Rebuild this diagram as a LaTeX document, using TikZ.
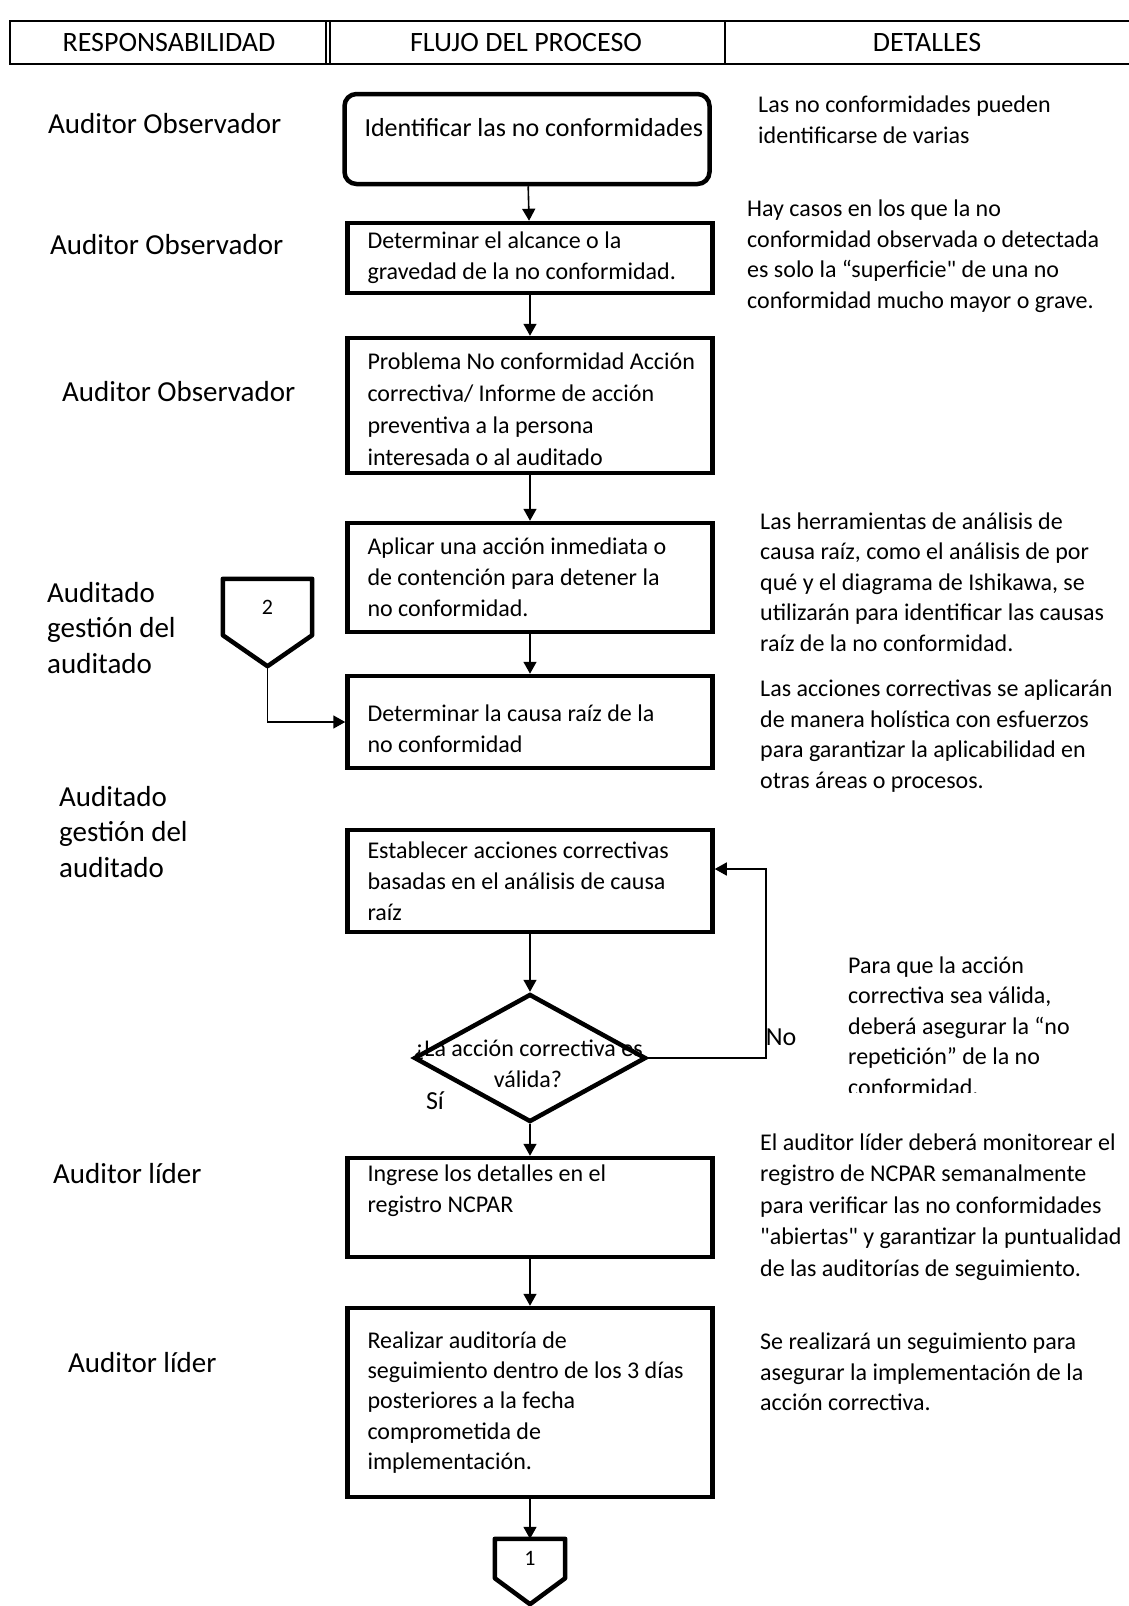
\documentclass[tikz,border=0pt]{standalone}
\usepackage{fontspec}
\setmainfont{Carlito}
\usetikzlibrary{positioning,shapes.geometric,arrows.meta}

\tikzset{
  box/.style={draw, line width=4.5pt, minimum width=365pt, text width=325pt,
    inner xsep=20pt, align=flush left, font=\fontsize{24}{31}\selectfont},
  decision/.style={draw, diamond, line width=4.5pt, minimum width=232pt,
    minimum height=128pt, inner sep=0pt},
  offpage/.style={minimum width=#1, minimum height=40pt,
    font=\fontsize{22}{26}\selectfont},
  flow/.style={line width=1.6pt, -{Triangle[length=12pt,width=13pt]}},
  conn/.style={line width=4.5pt, line join=round},
  role/.style={anchor=west, inner sep=0pt, align=left,
    font=\fontsize{29}{35.5}\selectfont},
  note/.style={anchor=west, inner sep=0pt, align=left,
    font=\fontsize{24}{30.5}\selectfont},
  head/.style={inner sep=0pt, font=\fontsize{28}{32}\selectfont},
}

\begin{document}
\begin{tikzpicture}[x=1pt,y=-1pt]
  \fill[white] (0,0) rectangle (1129,1606);
  \useasboundingbox (0,0) rectangle (1129,1606);

  % cabecera de la tabla
  \draw[line width=1.5pt] (1129,21) -- (10,21) -- (10,64) -- (1129,64);
  \draw[line width=1.5pt] (326,21) -- (326,64) (330,21) -- (330,64) (725,21) -- (725,64);
  \node[head] (hresp) at (169,43) {RESPONSABILIDAD};
  \node[head] (hflujo) at (526,43) {FLUJO DEL PROCESO};
  \node[head] (hdet) at (927,43) {DETALLES};

  % responsables
  \node[role] (r1) at (48,124) {Auditor Observador};
  \node[role] (r2) at (50,245) {Auditor Observador};
  \node[role] (r3) at (62,392) {Auditor Observador};
  \node[role] (r4) at (47,628) {Auditado\\gestión del\\auditado};
  \node[role] (r5) at (59,832) {Auditado\\gestión del\\auditado};
  \node[role] (r6) at (53,1174) {Auditor líder};
  \node[role] (r7) at (68,1363) {Auditor líder};

  % flujo del proceso
  \node[box, rounded corners=12pt, minimum height=90pt, text depth=24pt,
    font=\fontsize{26}{31}\selectfont] (b1) at (527,139)
    {\mbox{Identificar las no conformidades}};
  \node[box, minimum height=70pt] (b2) at (530,258)
    {Determinar el alcance o la\\\mbox{gravedad de la no conformidad.}};
  \node[box, minimum height=135pt, text height=25pt,
    font=\fontsize{24}{32}\selectfont] (b3) at (530,405.5)
    {\mbox{Problema No conformidad Acción}\\correctiva/ Informe de acción\\preventiva a la persona\\interesada o al auditado};
  \node[box, minimum height=109pt] (b4) at (530,577.5)
    {\mbox{Aplicar una acción inmediata o}\\\mbox{de contención para detener la}\\no conformidad.};
  \node[box, minimum height=92pt, text height=30pt] (b5) at (530,722)
    {\mbox{Determinar la causa raíz de la}\\no conformidad};
  \node[box, minimum height=102pt] (b6) at (530,881)
    {\mbox{Establecer acciones correctivas}\\\mbox{basadas en el análisis de causa}\\raíz};
  \node[decision] (valid) at (530,1058) {};
  \node[inner sep=0pt, align=center, font=\fontsize{24}{31}\selectfont] (validtxt) at (528,1064)
    {¿La acción correctiva es\\válida?};
  \node[box, minimum height=99pt, text depth=69pt] (b8) at (530,1207.5)
    {Ingrese los detalles en el\\registro NCPAR};
  \node[box, minimum height=189pt, font=\fontsize{24}{30.2}\selectfont] (b9) at (530,1402.5)
    {Realizar auditoría de\\\mbox{seguimiento dentro de los 3 días}\\posteriores a la fecha\\comprometida de\\implementación.};

  % conectores fuera de página
  \node[offpage=89pt, minimum height=56pt] (c2) at (267.5,607) {2};
  \coordinate[below=31pt of c2.south] (c2tip);
  \draw[conn] (c2.north west) -- (c2.north east) -- (c2.south east) -- (c2tip) -- (c2.south west) -- cycle;
  \node[offpage=70pt, minimum height=39pt] (c1) at (530,1558.5) {1};
  \coordinate[below=26pt of c1.south] (c1tip);
  \draw[conn] (c1.north west) -- (c1.north east) -- (c1.south east) -- (c1tip) -- (c1.south west) -- cycle;

  % flechas
  \draw[flow] (b1) -- (b2);
  \draw[flow] (b2) -- (b3);
  \draw[flow] (b3) -- (b4);
  \draw[flow] (b4) -- (b5);
  \draw[flow] (c2tip) |- (b5);
  \draw[flow] (b6) -- (valid);
  \coordinate (nocorner) at (766,1058);
  \draw[flow] (valid.east) -- (nocorner) |- ([yshift=12pt]b6.east);
  \draw[flow] (valid) -- (b8);
  \draw[flow] (b8) -- (b9);
  \draw[flow] (b9) -- (c1);
  \node[inner sep=0pt, font=\fontsize{26}{30}\selectfont] (no) at (781,1037) {No};
  \node[inner sep=0pt, font=\fontsize{26}{30}\selectfont] (si) at (435,1101) {Sí};

  % detalles
  \node[note] (d1) at (758,120)
    {Las no conformidades pueden\\identificarse de varias};
  \node[note] (d2) at (747,256)
    {Hay casos en los que la no\\conformidad observada o detectada\\es solo la “superficie\textquotedbl{} de una no\\conformidad mucho mayor o grave.};
  \node[note] (d3) at (760,582)
    {Las herramientas de análisis de\\causa raíz, como el análisis de por\\qué y el diagrama de Ishikawa, se\\utilizarán para identificar las causas\\raíz de la no conformidad.};
  \node[note] (d4) at (760,736)
    {Las acciones correctivas se aplicarán\\de manera holística con esfuerzos\\para garantizar la aplicabilidad en\\otras áreas o procesos.};
  \begin{scope}
    \clip (840,940) rectangle (1129,1092);
    \node[note] (d5) at (848,1026)
      {Para que la acción\\correctiva sea válida,\\deberá asegurar la “no\\repetición” de la no\\conformidad.};
  \end{scope}
  \node[note, font=\fontsize{24}{31.5}\selectfont] (d6) at (760,1207)
    {El auditor líder deberá monitorear el\\registro de NCPAR semanalmente\\para verificar las no conformidades\\\textquotedbl abiertas\textquotedbl{} y garantizar la puntualidad\\de las auditorías de seguimiento.};
  \node[note] (d7) at (760,1372)
    {Se realizará un seguimiento para\\asegurar la implementación de la\\acción correctiva.};
\end{tikzpicture}
\end{document}
